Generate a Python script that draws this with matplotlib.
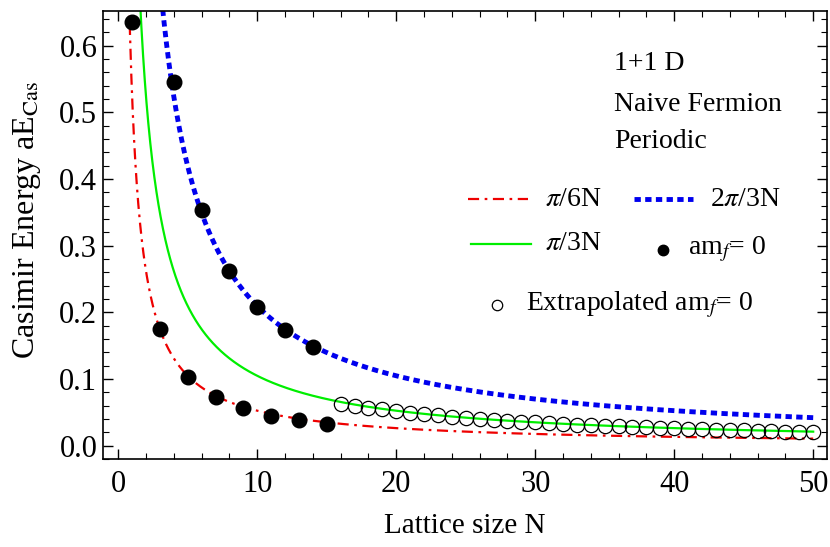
import numpy as np
import matplotlib.pyplot as plt
from matplotlib.ticker import MultipleLocator

plt.rcParams['font.family'] = ['Liberation Serif', 'DejaVu Serif']
plt.rcParams['mathtext.fontset'] = 'stix'

# measured points, am_f = 0
n_odd = [1, 3, 5, 7, 9, 11, 13, 15]
e_odd = [0.635, 0.175, 0.1025, 0.073, 0.0565, 0.0445, 0.0385, 0.0325]
n_even = [4, 6, 8, 10, 12, 14]
e_even = [0.545, 0.353, 0.262, 0.2075, 0.1735, 0.1475]

# extrapolated points
n_ext = list(range(16, 51))
e_ext = [0.0625, 0.0595, 0.0570, 0.0543, 0.0520, 0.0496, 0.0474, 0.0454,
         0.0435, 0.0418, 0.0401, 0.0386, 0.0372, 0.0359, 0.0347, 0.0336,
         0.0325, 0.0315, 0.0306, 0.0297, 0.0288, 0.0280, 0.0273, 0.0266,
         0.0259, 0.0253, 0.0247, 0.0241, 0.0235, 0.0230, 0.0225, 0.0214,
         0.0210, 0.0207, 0.0200]

N = np.linspace(0.5, 50, 2000)

red_style = dict(color='#ee0000', lw=1.6, dashes=(5, 2.5, 1.2, 2.5))
green_style = dict(color='#00ee00', lw=1.6)
blue_style = dict(color='#0000ee', lw=3.5, dashes=(1.3, 0.9))

fig = plt.figure(figsize=(8.3, 5.47), dpi=100)
ax = fig.add_axes([0.124, 0.161, 0.8725, 0.819])

ax.plot(N, np.pi / (6 * N), **red_style)
ax.plot(N, np.pi / (3 * N), **green_style)
ax.plot(N, 2 * np.pi / (3 * N), **blue_style)

ax.plot(n_odd + n_even, e_odd + e_even, 'o', color='black', ms=10.5, zorder=5)
ax.plot(n_ext, e_ext, 'o', mfc='none', mec='black', mew=0.9, ms=10.3, zorder=5)

ax.set_xlim(-1.1, 51)
ax.set_ylim(-0.02, 0.652)
ax.xaxis.set_major_locator(MultipleLocator(10))
ax.xaxis.set_minor_locator(MultipleLocator(2))
ax.yaxis.set_major_locator(MultipleLocator(0.1))
ax.yaxis.set_minor_locator(MultipleLocator(0.02))
ax.yaxis.set_major_formatter(plt.FuncFormatter(lambda v, p: f'{v:.1f}'))
ax.tick_params(which='both', direction='in', top=True, right=True, labelsize=22)
ax.tick_params(axis='x', which='major', pad=8)
ax.tick_params(axis='y', which='major', pad=4)
ax.tick_params(which='major', length=7, width=1)
ax.tick_params(which='minor', length=4, width=0.8)
for s in ax.spines.values():
    s.set_linewidth(1.2)

ax.set_xlabel('Lattice size N', fontsize=21, labelpad=10)
ax.set_ylabel(r'Casimir Energy aE$_{\mathrm{Cas}}$', fontsize=23)
ax.yaxis.set_label_coords(-0.083, 0.533)

tr = ax.transAxes
ax.text(0.706, 0.868, '1+1 D', transform=tr, fontsize=20, va='baseline')
ax.text(0.706, 0.777, 'Naive Fermion', transform=tr, fontsize=20, va='baseline')
ax.text(0.706, 0.694, 'Periodic', transform=tr, fontsize=20, va='baseline')

# legend, laid out by hand
ax.plot([0.504, 0.587], [0.580, 0.580], transform=tr, **red_style)
ax.text(0.610, 0.580, r'$\pi$/6N', transform=tr, fontsize=20, va='center')
ax.plot([0.733, 0.815], [0.580, 0.580], transform=tr, **blue_style)
ax.text(0.838, 0.580, r'2$\pi$/3N', transform=tr, fontsize=20, va='center')
ax.plot([0.508, 0.591], [0.480, 0.480], transform=tr, **green_style)
ax.text(0.610, 0.480, r'$\pi$/3N', transform=tr, fontsize=20, va='center')
ax.plot([0.773], [0.467], 'o', color='black', ms=7.5, transform=tr)
ax.text(0.808, 0.467, r'am$_f$= 0', transform=tr, fontsize=20, va='center')
ax.plot([0.544], [0.344], 'o', mfc='none', mec='black', mew=0.9, ms=7.5, transform=tr)
ax.text(0.584, 0.344, r'Extrapolated am$_f$= 0', transform=tr, fontsize=20, va='center')

fig.savefig('out.png', dpi=100)
